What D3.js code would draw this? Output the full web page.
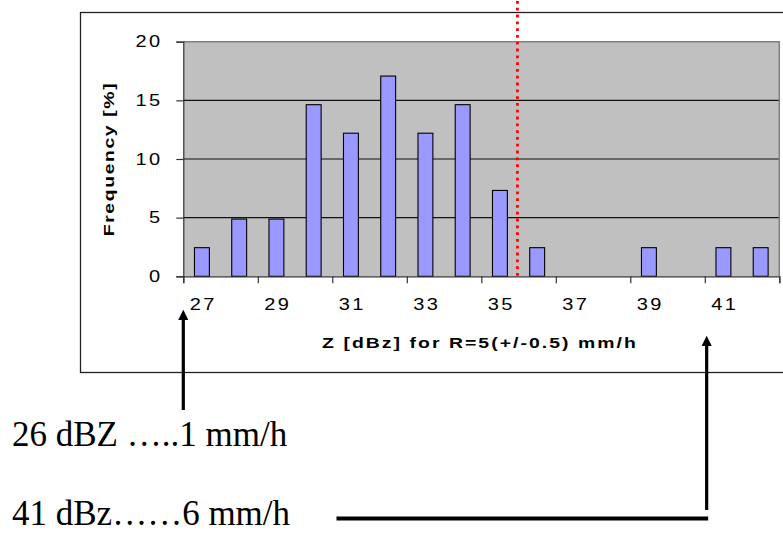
<!DOCTYPE html>
<html>
<head>
<meta charset="utf-8">
<script src="https://cdn.jsdelivr.net/npm/d3@7"></script>
<style>
  body { margin: 0; background: #fff; }
  svg { display: block; }
  .tick text { font-family: Arial, "Liberation Sans", sans-serif; fill: #000; }
</style>
</head>
<body>
<div id="chart"></div>
<script>
// Z classes (dBZ) and frequency in percent
const categories = ["27", "28", "29", "30", "31", "32", "33", "34", "35", "36", "37", "38", "39", "40", "41", "42"]
const frequency = [2.44, 4.88, 4.88, 14.63, 12.2, 17.07, 12.2, 14.63, 7.32, 2.44, 0, 0, 2.44, 0, 2.44, 2.44]
const xTickLabels = ["27", "29", "31", "33", "35", "37", "39", "41"]
const yTicks = [0, 5, 10, 15, 20]
const thresholdDbz = 35.47   // red dotted line
const arrowDbz = [26.5, 40.55] // where the two arrows point
const notes = ["26 dBZ \u2026..1 mm/h", "41 dBz\u2026\u20266 mm/h"]

const W = 783, H = 534
const margin = { top: 41.7, right: 3.7, bottom: 257.7, left: 183.3 }
const plotW = W - margin.left - margin.right
const plotH = H - margin.top - margin.bottom
const sx = 1.25 // the old chart text is drawn wide

const svg = d3.select("#chart").append("svg")
   .attr("width", W)
   .attr("height", H)

// chart frame (runs off the right side of the picture)
svg.append("rect")
   .attr("x", 80.5).attr("y", 12.5)
   .attr("width", 760).attr("height", 360)
   .attr("fill", "none")
   .attr("stroke", "#222")
   .attr("stroke-width", 1.3)

const g = svg.append("g")
   .attr("transform", "translate(" + margin.left + "," + margin.top + ")")

// scales
let x = d3.scaleBand()
   .domain(categories)
   .range([0, plotW])
   .paddingInner(0.6)
   .paddingOuter(0.3)

let xLin = d3.scaleLinear()
   .domain([26.5, 42.5])
   .range([0, plotW])

let y = d3.scaleLinear()
   .domain([0, 20])
   .range([plotH, 0])

// plot area
g.append("rect")
   .attr("width", plotW).attr("height", plotH)
   .attr("fill", "#c0c0c0")

// gridlines
g.selectAll("line.grid").data(yTicks.filter(d => d > 0 && d < 20))
   .join("line")
   .attr("class", "grid")
   .attr("x1", 0).attr("x2", plotW)
   .attr("y1", d => y(d)).attr("y2", d => y(d))
   .attr("stroke", "#111")
   .attr("stroke-width", 1.1)

// border top / right
g.append("path")
   .attr("d", "M0," + y(20) + "H" + plotW + "V" + plotH)
   .attr("fill", "none")
   .attr("stroke", "#808080")
   .attr("stroke-width", 1.5)

// bars
g.selectAll("rect.bar").data(frequency)
   .join("rect")
   .attr("class", "bar")
   .attr("x", (d, i) => x(categories[i]))
   .attr("y", d => y(d))
   .attr("width", x.bandwidth())
   .attr("height", d => plotH - y(d))
   .attr("fill", "#9999ff")
   .attr("stroke", d => d > 0 ? "#000" : "none")
   .attr("stroke-width", 1.1)

// y axis
let yAxis = g.append("g")
   .call(d3.axisLeft(y).tickValues(yTicks).tickSize(7).tickPadding(12))
yAxis.select(".domain").attr("stroke", "#333").attr("stroke-width", 1.2)
yAxis.selectAll(".tick line").attr("stroke", "#333").attr("stroke-width", 1.2)
yAxis.selectAll(".tick text")
   .attr("x", (-23.3 + 1.8 * sx) / sx)
   .attr("transform", "scale(" + sx + ",1)")
   .style("font-size", "16px")
   .style("letter-spacing", "1.8px")

// x axis: tick marks on every second category boundary
let xTicksAxis = g.append("g")
   .attr("transform", "translate(0," + plotH + ")")
   .call(d3.axisBottom(xLin).tickValues(d3.range(26.5, 43, 2)).tickSize(7).tickFormat(""))
xTicksAxis.select(".domain").attr("stroke", "#333").attr("stroke-width", 1.2)
xTicksAxis.selectAll(".tick line").attr("stroke", "#333").attr("stroke-width", 1.2)

let xLabels = g.append("g")
   .attr("transform", "translate(0," + plotH + ")")
   .call(d3.axisBottom(x).tickValues(xTickLabels).tickSize(0))
xLabels.select(".domain").remove()
xLabels.selectAll(".tick text")
   .attr("y", 33.7).attr("dy", 0)
   .attr("x", 1)
   .attr("transform", "scale(" + sx + ",1)")
   .style("font-size", "16px")
   .style("letter-spacing", "1.8px")

// red dotted threshold line
svg.append("line")
   .attr("x1", margin.left + xLin(thresholdDbz))
   .attr("x2", margin.left + xLin(thresholdDbz))
   .attr("y1", 1).attr("y2", margin.top + plotH)
   .attr("stroke", "#ff0000")
   .attr("stroke-width", 2.8)
   .attr("stroke-dasharray", "2.8,4")

// axis titles
svg.append("text")
   .attr("transform", "translate(480,348.3) scale(" + sx + ",1)")
   .attr("text-anchor", "middle")
   .style("font-family", "Arial, 'Liberation Sans', sans-serif")
   .style("font-weight", "bold")
   .style("font-size", "15.5px")
   .style("letter-spacing", "1.65px")
   .text("Z [dBz] for R=5(+/-0.5) mm/h")

svg.append("text")
   .attr("transform", "translate(114,159) rotate(-90) scale(" + sx + ",1)")
   .attr("text-anchor", "middle")
   .style("font-family", "Arial, 'Liberation Sans', sans-serif")
   .style("font-weight", "bold")
   .style("font-size", "15.5px")
   .style("letter-spacing", "1.3px")
   .text("Frequency [%]")

// arrows and notes
svg.append("defs").append("marker")
   .attr("id", "head")
   .attr("viewBox", "0 0 10 10")
   .attr("refX", 2).attr("refY", 5)
   .attr("markerWidth", 3.4).attr("markerHeight", 3.2)
   .attr("markerUnits", "strokeWidth")
   .attr("orient", "auto")
   .append("path")
   .attr("d", "M0,0L10,5L0,10Z")
   .attr("fill", "#000")

let ax0 = margin.left + xLin(arrowDbz[0])
let ax1 = margin.left + xLin(arrowDbz[1])

svg.append("line")
   .attr("x1", ax0).attr("x2", ax0)
   .attr("y1", 410).attr("y2", 318)
   .attr("stroke", "#000").attr("stroke-width", 3.2)
   .attr("marker-end", "url(#head)")

svg.append("line")
   .attr("x1", ax1).attr("x2", ax1)
   .attr("y1", 510).attr("y2", 344)
   .attr("stroke", "#000").attr("stroke-width", 3.2)
   .attr("marker-end", "url(#head)")

svg.append("line")
   .attr("x1", 336.5).attr("x2", ax1 + 1.5)
   .attr("y1", 518.5).attr("y2", 518.5)
   .attr("stroke", "#000").attr("stroke-width", 3.8)

svg.selectAll("text.note").data(notes)
   .join("text")
   .attr("class", "note")
   .attr("x", 12)
   .attr("y", (d, i) => i === 0 ? 446 : 525)
   .style("font-family", "'Liberation Serif', 'Times New Roman', serif")
   .style("font-size", "35px")
   .text(d => d)
</script>
</body>
</html>
